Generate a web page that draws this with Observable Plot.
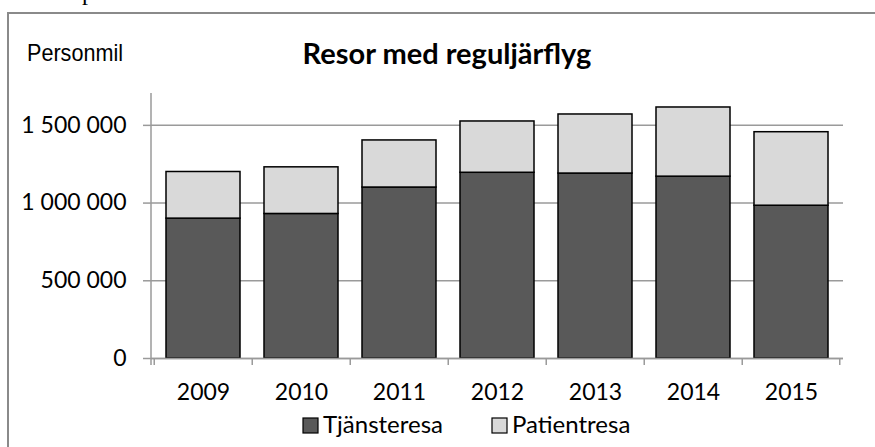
<!DOCTYPE html>
<html>
<head>
<meta charset="utf-8">
<script src="https://cdn.jsdelivr.net/npm/d3@7"></script>
<script src="https://cdn.jsdelivr.net/npm/@observablehq/plot@0.6"></script>
<style>
  html, body { margin: 0; padding: 0; background: #fff; }
  #chart { position: relative; width: 875px; height: 447px; overflow: hidden; }
</style>
</head>
<body>
<div id="chart"></div>
<script>
const years = ["2009", "2010", "2011", "2012", "2013", "2014", "2015"];
const tjansteresa = [900000, 930000, 1100000, 1195000, 1190000, 1170000, 983000];
const patientresa = [300000, 300000, 303000, 330000, 380000, 445000, 473000];
const seriesNames = ["Tjänsteresa", "Patientresa"];
const seriesColors = ["#595959", "#d9d9d9"];
const yTicks = [0, 500000, 1000000, 1500000];
const titleText = "Resor med reguljärflyg";
const unitText = "Personmil";

const data = years.flatMap((yr, i) => [
  {year: yr, series: seriesNames[0], value: tjansteresa[i]},
  {year: yr, series: seriesNames[1], value: patientresa[i]}
]);

const fmt = d => d3.format(",")(d).replace(/,/g, " ");
const gridColor = "#9a9a9a";

const plot = Plot.plot({
  width: 875,
  height: 447,
  marginTop: 93,
  marginBottom: 89,
  marginLeft: 151,
  marginRight: 32,
  style: {fontFamily: "Lato, 'Open Sans', sans-serif", fontSize: "23px", color: "#000", background: "#fff", overflow: "visible"},
  x: {domain: years, paddingInner: 0.24, paddingOuter: 0.12, label: null},
  y: {domain: [0, 1705000], label: null},
  color: {domain: seriesNames, range: seriesColors},
  marks: [
    Plot.gridY(yTicks, {stroke: gridColor, strokeOpacity: 1, strokeWidth: 1.5}),
    Plot.barY(data, {x: "year", y: "value", fill: "series", stroke: "#000", strokeWidth: 1.5}),
    Plot.ruleY([0], {stroke: gridColor, strokeWidth: 1.5}),
    Plot.axisY(yTicks, {tickSize: 8, tickPadding: 17, tickFormat: fmt, stroke: gridColor, strokeWidth: 1.5, fill: "#000", label: null, fontSize: 23}),
    Plot.axisX({tickSize: 0, tickPadding: 25, label: null, fill: "#000", fontSize: 23})
  ]
});

document.getElementById("chart").appendChild(plot);

const svg = d3.select(plot);
const xs = plot.scale("x");
const ys = plot.scale("y");
const step = xs.step;
const half = 0.24 * step / 2;
const left = xs.range[0];
const y0 = ys.apply(0);
const yTop = ys.range[1];

const deco = svg.append("g").attr("text-anchor", "start");
// y axis line
deco.append("line")
  .attr("x1", left).attr("x2", left)
  .attr("y1", yTop).attr("y2", y0 + 7)
  .attr("stroke", gridColor).attr("stroke-width", 1.5);
// category boundary ticks
const bounds = years.map(yr => xs.apply(yr) - half).concat([xs.apply(years[years.length - 1]) + xs.bandwidth + half]);
deco.selectAll("line.bt").data(bounds).join("line")
  .attr("class", "bt")
  .attr("x1", d => d).attr("x2", d => d)
  .attr("y1", y0).attr("y2", y0 + 7)
  .attr("stroke", gridColor).attr("stroke-width", 1.5);

// outer border (left and top edges visible)
deco.append("path")
  .attr("d", "M8,447V13H875")
  .attr("fill", "none").attr("stroke", "#8a8a8a").attr("stroke-width", 2);

// cut-off letter from text above
deco.append("text")
  .attr("x", 82).attr("y", 0)
  .attr("font-family", "'Liberation Serif', serif").attr("font-size", 24)
  .attr("fill", "#000")
  .text("p");

// title
deco.append("text")
  .attr("x", 447).attr("y", 64)
  .attr("text-anchor", "middle")
  .attr("font-family", "Lato, sans-serif").attr("font-weight", "bold").attr("font-size", 29)
  .attr("fill", "#000")
  .text(titleText);

// unit label
deco.append("text")
  .attr("x", 27).attr("y", 61)
  .attr("font-family", "'Liberation Sans', Arial, sans-serif").attr("font-size", 24)
  .attr("textLength", 96).attr("lengthAdjust", "spacingAndGlyphs")
  .attr("fill", "#000")
  .text(unitText);

// legend
const cs = plot.scale("color");
const legendX = [303, 492];
const lg = deco.selectAll("g.lg").data(seriesNames).join("g")
  .attr("class", "lg")
  .attr("transform", (d, i) => `translate(${legendX[i]},418)`);
lg.append("rect")
  .attr("width", 15).attr("height", 15)
  .attr("fill", d => cs.apply(d)).attr("stroke", "#000").attr("stroke-width", 1.2);
lg.append("text")
  .attr("x", 20).attr("y", 15)
  .attr("font-family", "Lato, sans-serif").attr("font-size", 24)
  .attr("fill", "#000")
  .text(d => d);
</script>
</body>
</html>
